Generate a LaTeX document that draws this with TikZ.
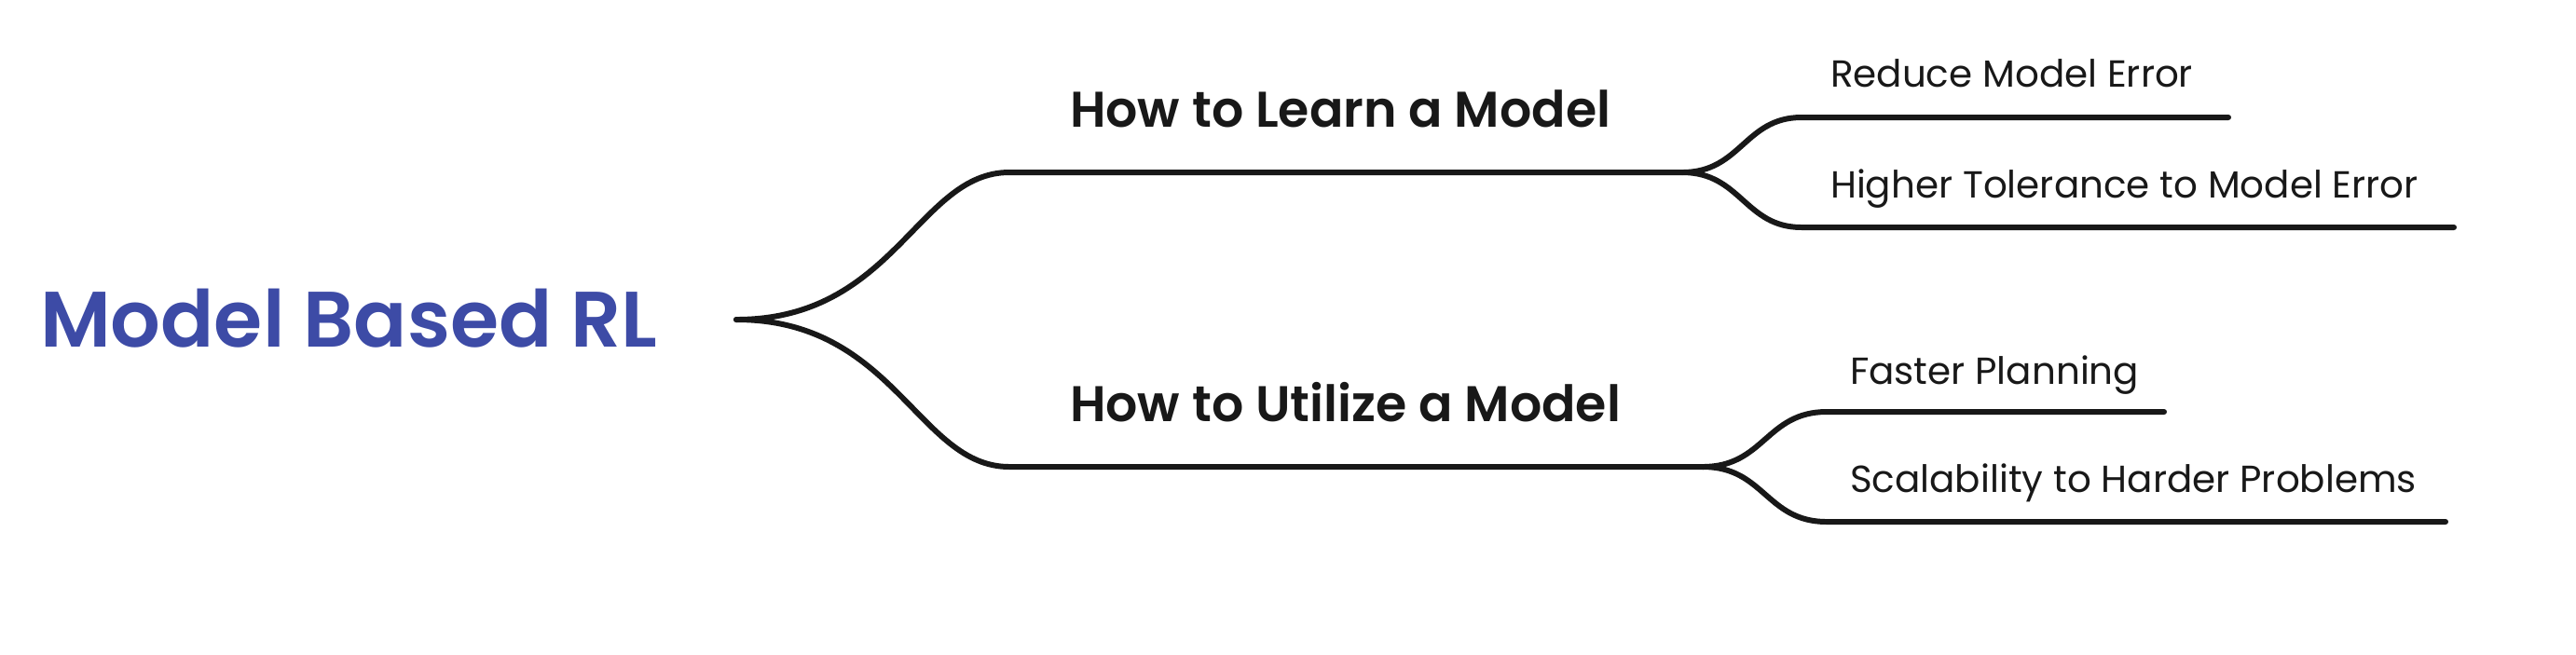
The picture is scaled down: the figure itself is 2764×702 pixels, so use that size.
\documentclass[tikz,border=0pt]{standalone}
\usepackage{fontspec}
\setmainfont{Poppins}
\IfFontExistsTF{Poppins SemiBold}{\newfontfamily\semib{Poppins SemiBold}}{\newcommand\semib{\bfseries}}
\definecolor{rootblue}{RGB}{61,75,166}
\definecolor{ink}{RGB}{24,24,24}
\begin{document}
\begin{tikzpicture}[x=0.01cm,y=-0.01cm,
  txt/.style={inner sep=0pt,outer sep=0pt,anchor=base west,text=ink},
  roottxt/.style={txt,text=rootblue,font=\fontsize{24}{28}\selectfont\semib},
  headtxt/.style={txt,font=\fontsize{15.3}{18}\selectfont\semib},
  leaftxt/.style={txt,font=\fontsize{11.5}{14}\selectfont},
  branch/.style={draw=ink,line width=1.7pt,line cap=round,line join=round}]
\useasboundingbox (0,0) rectangle (2764,702);
% texts
\node[roottxt] (root) at (43,372) {Model Based RL};
\node[headtxt] (t1) at (1148,136) {How to Learn a Model};
\node[headtxt] (t2) at (1148,452) {How to Utilize a Model};
\node[leaftxt] (l1) at (1964,93) {Reduce Model Error};
\node[leaftxt] (l2) at (1964,212) {Higher Tolerance to Model Error};
\node[leaftxt] (l3) at (1985,412) {Faster Planning};
\node[leaftxt] (l4) at (1985,528) {Scalability to Harder Problems};
% connector points
\coordinate (r) at (790,343);
\coordinate (h1s) at (1083,185);
\coordinate (h1e) at (1805,185);
\coordinate (h2s) at (1083,501);
\coordinate (h2e) at (1827,501);
\coordinate (a1s) at (1933,126);
\coordinate (a1e) at (2391,126);
\coordinate (a2s) at (1933,244);
\coordinate (a2e) at (2633,244);
\coordinate (b1s) at (1960,442);
\coordinate (b1e) at (2322,442);
\coordinate (b2s) at (1960,560);
\coordinate (b2e) at (2624,560);
% connectors
\draw[branch] (r) .. controls (960,343) and (985,185) .. (h1s) -- (h1e);
\draw[branch] (r) .. controls (960,343) and (985,501) .. (h2s) -- (h2e);
\draw[branch] (h1e) .. controls (1868,185) and (1872,126) .. (a1s) -- (a1e);
\draw[branch] (h1e) .. controls (1868,185) and (1872,244) .. (a2s) -- (a2e);
\draw[branch] (h2e) .. controls (1893,501) and (1895,442) .. (b1s) -- (b1e);
\draw[branch] (h2e) .. controls (1893,501) and (1895,560) .. (b2s) -- (b2e);
\end{tikzpicture}
\end{document}
